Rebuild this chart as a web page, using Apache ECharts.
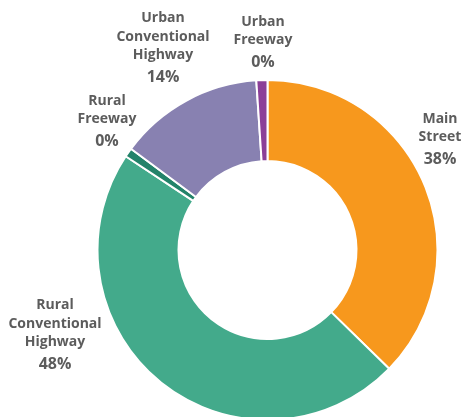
<!DOCTYPE html>
<html>
<head>
<meta charset="utf-8">
<script src="https://cdn.jsdelivr.net/npm/echarts@6/dist/echarts.min.js"></script>
<style>html,body{margin:0;padding:0;background:#fff;}#c{width:465px;height:417px;}</style>
</head>
<body>
<div id="c"></div>
<script>
// Data
const categories = ['Main Street', 'Rural Conventional Highway', 'Rural Freeway', 'Urban Conventional Highway', 'Urban Freeway'];
const nameLines = [['Main', 'Street'], ['Rural', 'Conventional', 'Highway'], ['Rural', 'Freeway'], ['Urban', 'Conventional', 'Highway'], ['Urban', 'Freeway']];
const values = [37.3, 47.0, 0.85, 13.8, 1.05];
const percentLabels = ['38%', '48%', '0%', '14%', '0%'];

const colors = ['#F7981D', '#43AA8B', '#23836A', '#8881B1', '#8B3F98'];
// label anchor points (layout only)
const labelAnchors = [[440, 141], [55, 337], [107, 123], [163, 50], [263, 44]];

const chart = echarts.init(document.getElementById('c'));
chart.setOption({
  animation: false,
  series: [{
    type: 'pie',
    center: [267.5, 250],
    radius: [89, 170],
    startAngle: 90,
    clockwise: true,
    avoidLabelOverlap: false,
    itemStyle: { borderColor: '#fff', borderWidth: 2 },
    label: {
      show: true,
      position: 'outside',
      formatter: function (p) {
        const i = p.dataIndex;
        return nameLines[i].map(function (s) { return '{n|' + s + '}'; }).join('\n') + '\n{p|' + percentLabels[i] + '}';
      },
      align: 'center',
      rich: {
        n: { fontFamily: 'Open Sans', fontWeight: 'bold', fontSize: 14, color: '#5c5c5c', lineHeight: 18.5, align: 'center' },
        p: { fontFamily: 'Open Sans', fontWeight: 'bold', fontSize: 16, color: '#5c5c5c', lineHeight: 26, align: 'center' }
      }
    },
    labelLine: { show: false },
    labelLayout: function (params) {
      const a = labelAnchors[params.dataIndex];
      return { x: a[0], y: a[1], align: 'center', verticalAlign: 'middle' };
    },
    data: categories.map(function (c, i) {
      return { name: c, value: values[i], itemStyle: { color: colors[i] } };
    })
  }]
});
</script>
</body>
</html>
